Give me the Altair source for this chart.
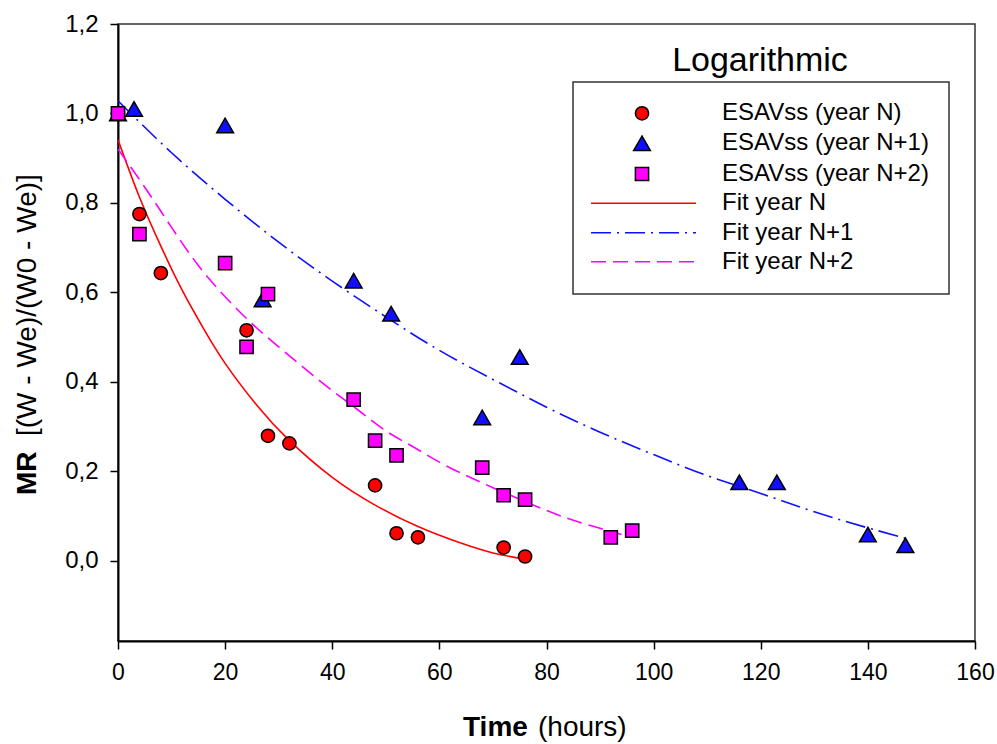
import altair as alt
import pandas as pd

# ---------------- data ----------------
n_time = [0, 4, 8, 24, 28, 32, 48, 52, 56, 72, 76]
n_mr = [1.0, 0.775, 0.643, 0.515, 0.279, 0.262, 0.168, 0.061, 0.052, 0.029, 0.009]

n1_time = [0, 3, 20, 27, 44, 51, 68, 75, 116, 123, 140, 147]
n1_mr = [1.0, 1.01, 0.973, 0.584, 0.626, 0.552, 0.32, 0.455, 0.175, 0.175, 0.058, 0.034]

n2_time = [0, 4, 20, 24, 28, 44, 48, 52, 68, 72, 76, 92, 96]
n2_mr = [1.0, 0.73, 0.665, 0.478, 0.596, 0.36, 0.268, 0.235, 0.208, 0.146, 0.136, 0.052, 0.067]

fit_n_time = [0, 4, 8, 12, 16, 20, 26, 32, 40, 48, 56, 64, 70, 76]
fit_n_mr = [0.941, 0.813, 0.703, 0.604, 0.518, 0.441, 0.346, 0.268, 0.186, 0.124, 0.076, 0.039, 0.017, 0.003]

fit_n1_time = [0, 10, 20, 30, 40, 50, 60, 70, 80, 90, 100, 110, 120, 130, 140, 147]
fit_n1_mr = [1.028, 0.912, 0.808, 0.712, 0.625, 0.545, 0.470, 0.405, 0.343, 0.287, 0.237,
             0.190, 0.150, 0.109, 0.073, 0.050]

fit_n2_time = [0, 5, 10, 15, 20, 25, 30, 35, 40, 45, 50, 55, 60, 65, 70, 75, 80, 85, 90, 94]
fit_n2_mr = [0.920, 0.835, 0.745, 0.660, 0.590, 0.530, 0.478, 0.428, 0.380, 0.335, 0.290,
             0.255, 0.220, 0.190, 0.163, 0.137, 0.112, 0.090, 0.072, 0.058]

x_ticks = [0, 20, 40, 60, 80, 100, 120, 140, 160]
y_ticks = [0.0, 0.2, 0.4, 0.6, 0.8, 1.0, 1.2]

legend_points = ["ESAVss (year N)", "ESAVss (year N+1)", "ESAVss (year N+2)"]
legend_lines = ["Fit year N", "Fit year N+1", "Fit year N+2"]

chart_title = "Logarithmic"
x_title_bold, x_title_rest = "Time", "(hours)"
y_title_bold, y_title_rest = "MR", "[(W - We)/(W0 - We)]"

# ---------------- styling / layout ----------------
RED, BLUE, MAG = "#FF0000", "#1010FF", "#FF00FF"
FONT = "Liberation Sans"
W, H = 857, 617

x_scale = alt.Scale(domain=[0, 160], nice=False, zero=False)
y_scale = alt.Scale(domain=[-0.18, 1.2], nice=False, zero=False)

x_axis = alt.Axis(values=x_ticks, title=None, grid=False, labelFontSize=23, labelFont=FONT,
                  labelColor="black", tickSize=8, tickColor="black", tickWidth=1.5,
                  domainColor="black", domainWidth=2, labelPadding=12, labelFlush=False)
y_axis = alt.Axis(values=y_ticks, title=None, grid=False, labelFontSize=24, labelFont=FONT,
                  labelColor="black", tickSize=8, tickColor="black", tickWidth=1.5,
                  domainColor="black", domainWidth=2, labelPadding=12,
                  labelExpr="replace(format(datum.value, '.1f'), '.', ',')")


def df(t, m):
    return pd.DataFrame({"t": t, "mr": m})


def enc():
    return dict(
        x=alt.X("t:Q", scale=x_scale, axis=x_axis),
        y=alt.Y("mr:Q", scale=y_scale, axis=y_axis),
    )


def line_layer(t, m, color, dash=None):
    kw = dict(color=color, strokeWidth=1.6, interpolate="natural", clip=True)
    if dash:
        kw["strokeDash"] = dash
    return alt.Chart(df(t, m)).mark_line(**kw).encode(**enc())


def point_layer(t, m, shape, color, size):
    return alt.Chart(df(t, m)).mark_point(shape=shape, filled=True, fill=color, stroke="black",
                                          strokeWidth=1.5, size=size, opacity=1).encode(**enc())


one = pd.DataFrame({"a": [0]})


def text_at(txt, x, y, size, bold=False, align="left", angle=0):
    kw = dict(text=txt, font=FONT, fontSize=size, fontWeight="bold" if bold else "normal",
              align=align, baseline="middle", color="black")
    if angle:
        kw["angle"] = angle
    return alt.Chart(one).mark_text(**kw).encode(x=alt.value(x), y=alt.value(y))


layers = [
    line_layer(fit_n_time, fit_n_mr, RED),
    line_layer(fit_n1_time, fit_n1_mr, BLUE, dash=[20, 6, 2, 6]),
    line_layer(fit_n2_time, fit_n2_mr, MAG, dash=[15, 7]),
    point_layer(n_time, n_mr, "circle", RED, 175),
    point_layer(n1_time, n1_mr, "triangle-up", BLUE, 280),
    point_layer(n2_time, n2_mr, "square", MAG, 175),
]

# legend box
layers.append(alt.Chart(one).mark_rect(fill="white", stroke="#333333", strokeWidth=1.5).encode(
    x=alt.value(455), x2=alt.value(831), y=alt.value(58), y2=alt.value(270)))

row_y = [89.3, 119.3, 150.0, 179.3, 208.7, 237.7]
sym_x, line_x0, line_x1, text_x = 524, 473, 578, 604
shapes = [("circle", RED, 175), ("triangle-up", BLUE, 280), ("square", MAG, 175)]
for (shape, col, sz), lab, yy in zip(shapes, legend_points, row_y[:3]):
    layers.append(alt.Chart(one).mark_point(shape=shape, filled=True, fill=col, stroke="black",
                                            strokeWidth=1.5, size=sz, opacity=1).encode(
        x=alt.value(sym_x), y=alt.value(yy)))
    layers.append(text_at(lab, text_x, yy, 24))

line_styles = [(RED, None), (BLUE, [20, 6, 2, 6]), (MAG, [15, 7])]
for (col, dash), lab, yy in zip(line_styles, legend_lines, row_y[3:]):
    kw = dict(color=col, strokeWidth=1.6)
    if dash:
        kw["strokeDash"] = dash
    layers.append(alt.Chart(one).mark_rule(**kw).encode(
        x=alt.value(line_x0), x2=alt.value(line_x1), y=alt.value(yy)))
    layers.append(text_at(lab, text_x, yy, 24))

# titles
layers.append(text_at(chart_title, 642, 37, 34, align="center"))
layers.append(text_at(x_title_bold, 345, 704, 28, bold=True))
layers.append(text_at(x_title_rest, 420, 704, 28))
layers.append(text_at(y_title_bold, -90, 471, 28, bold=True, angle=270))
layers.append(text_at(y_title_rest, -90, 412, 28, angle=270))

chart = alt.layer(*layers).properties(
    width=W, height=H,
    autosize=alt.AutoSizeParams(type="none"),
    padding={"left": 118, "top": 24, "right": 22, "bottom": 103},
    background="white",
).configure(font=FONT).configure_view(stroke="#333333", strokeWidth=1.5)

chart.save("out.html", embed_options={"renderer": "svg", "actions": False})
